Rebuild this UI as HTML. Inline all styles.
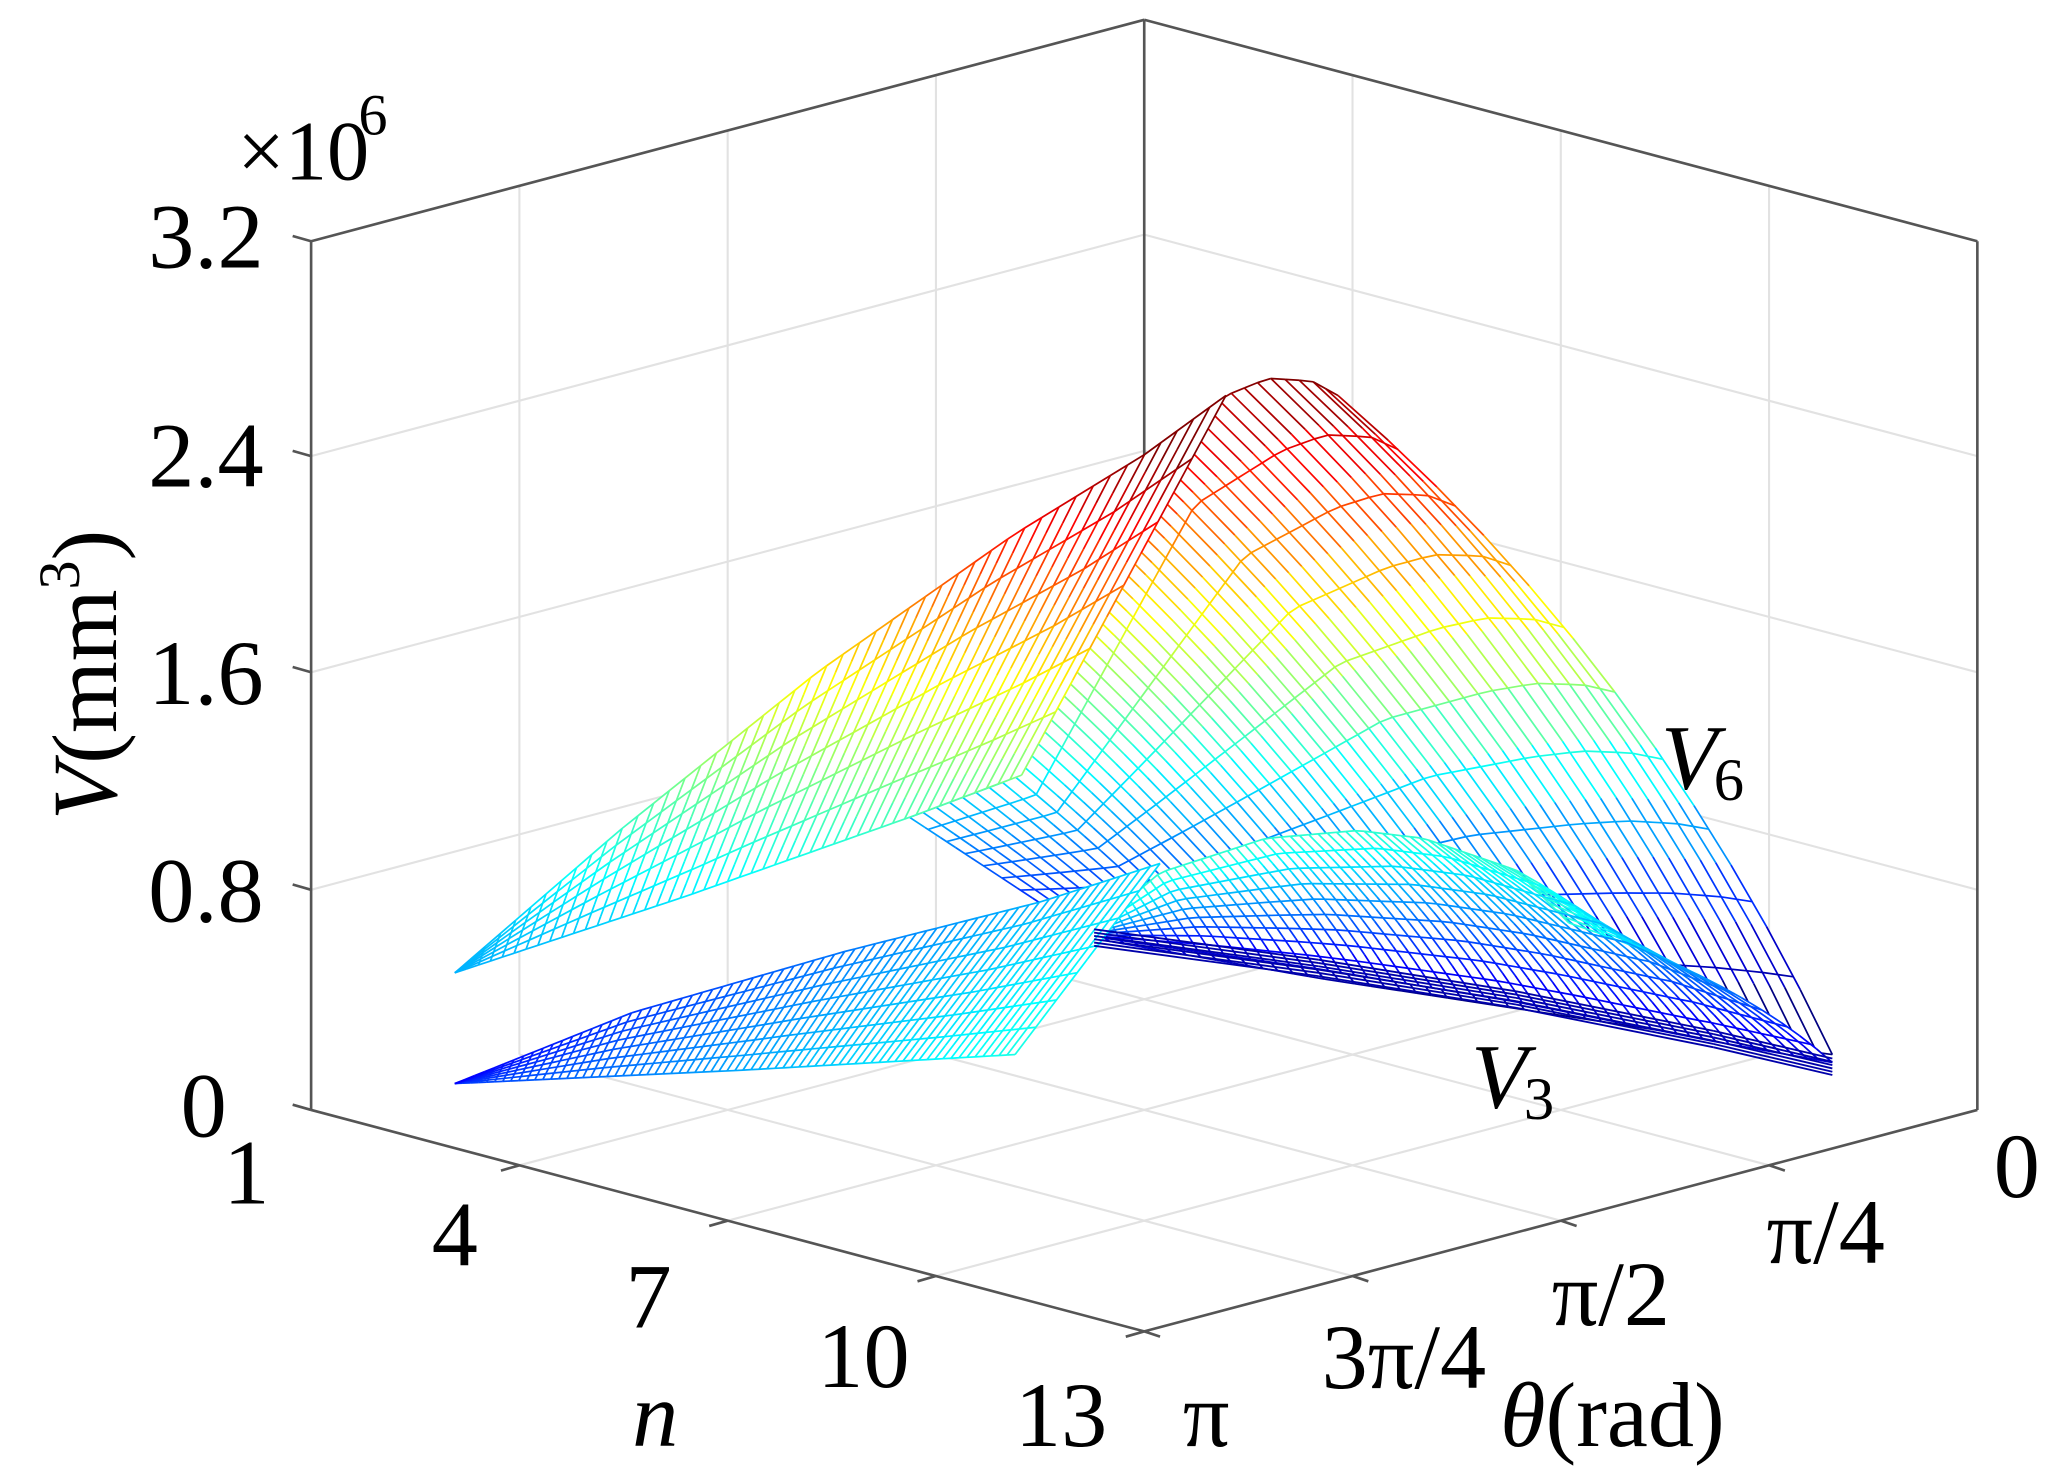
<!DOCTYPE html>
<html><head><meta charset="utf-8"><style>
html,body{margin:0;padding:0;background:#fff;}
svg{display:block;}
</style></head><body>
<svg id="s" width="2067" height="1483" viewBox="0 0 1568 1125" xmlns="http://www.w3.org/2000/svg">
<rect width="1568" height="1125" fill="#fff"/>
<g id="grid" stroke="#e2e2e2" stroke-width="1.6" fill="none"></g>
<g id="box" stroke="#555" stroke-width="2" fill="none">
<line x1="236" y1="183" x2="236" y2="842"/>
<line x1="236" y1="183" x2="868" y2="15"/>
<line x1="868" y1="15" x2="1500" y2="183"/>
<line x1="1500" y1="183" x2="1500" y2="842"/>
<line x1="868" y1="15" x2="868" y2="345"/>
<line x1="236" y1="842" x2="868" y2="1010"/>
<line x1="868" y1="1010" x2="1500" y2="842"/>
</g>
<g id="mesh" fill="none" stroke-width="1.3"></g>
<g font-size="70" font-family="'Liberation Serif','Times New Roman','DejaVu Serif',serif" fill="#000">
<text x="200" y="203" text-anchor="end">3.2</text>
<text x="200" y="369" text-anchor="end">2.4</text>
<text x="200" y="534" text-anchor="end">1.6</text>
<text x="200" y="699" text-anchor="end">0.8</text>
<text x="172" y="862" text-anchor="end">0</text>
<text x="180" y="136" font-size="64">×10</text>
<text x="272" y="102" font-size="44">6</text>
<text x="187" y="913" text-anchor="middle">1</text>
<text x="345" y="960" text-anchor="middle">4</text>
<text x="492" y="1007" text-anchor="middle">7</text>
<text x="655" y="1052" text-anchor="middle">10</text>
<text x="805" y="1097" text-anchor="middle">13</text>
<text x="497" y="1097" text-anchor="middle" font-style="italic">n</text>
<text x="915" y="1097" text-anchor="middle">π</text>
<text x="1065" y="1053" text-anchor="middle">3π/4</text>
<text x="1222" y="1005" text-anchor="middle">π/2</text>
<text x="1385" y="958" text-anchor="middle">π/4</text>
<text x="1530" y="908" text-anchor="middle">0</text>
<text x="1138" y="1097"><tspan font-style="italic">θ</tspan>(rad)</text>
<text x="1260" y="598" font-style="italic">V</text><text x="1300" y="607" font-size="46">6</text>
<text x="1116" y="840" font-style="italic">V</text><text x="1156" y="849" font-size="46">3</text>
<g transform="translate(88,512) rotate(-90)"><text x="0" y="0" text-anchor="middle"><tspan font-style="italic">V</tspan>(mm<tspan font-size="44" dy="-28">3</tspan><tspan dy="28">)</tspan></text></g>
</g>
</svg>
<script>
(function(){
var NS="http://www.w3.org/2000/svg";
var grid=document.getElementById('grid'),mesh=document.getElementById('mesh');
function L(g,x1,y1,x2,y2,c,w){var l=document.createElementNS(NS,'line');l.setAttribute('x1',x1);l.setAttribute('y1',y1);l.setAttribute('x2',x2);l.setAttribute('y2',y2);if(c)l.setAttribute('stroke',c);if(w)l.setAttribute('stroke-width',w);g.appendChild(l);}
[346,510,675].forEach(function(z){L(grid,236,z,868,z-168);L(grid,868,z-168,1500,z);});
[0.25,0.5,0.75].forEach(function(f){var x=236+632*f;L(grid,x,183-168*f,x,842-168*f);
 x=868+632*f;L(grid,x,15+168*f,x,674+168*f);
 L(grid,236+632*f,842+168*f,868+632*f,674+168*f);
 L(grid,236+632*f,842-168*f,868+632*f,1010-168*f);});
var box=document.getElementById('box');
[0.25,0.5,0.75,1].forEach(function(f){var x=236+632*f,y=842+168*f;L(box,x,y,x-14,y+4);});
[0,0.25,0.5,0.75].forEach(function(f){var x=868+632*f,y=1010-168*f;L(box,x,y,x+12,y+4);});
[183,346,510,675,842].forEach(function(z){L(box,236,z,222,z-4);});
function jet(v){v=Math.max(0,Math.min(1,v));function c(x){return Math.round(255*Math.max(0,Math.min(1,1.5-Math.abs(4*v-x))));}
 return 'rgb('+c(3)+','+c(2)+','+c(1)+')';}
function pl(pts,t){
 var d=[0],i;for(i=1;i<pts.length;i++)d.push(d[i-1]+Math.hypot(pts[i][0]-pts[i-1][0],pts[i][1]-pts[i-1][1]));
 var T=t*d[d.length-1];for(i=1;i<pts.length;i++){if(T<=d[i]||i==pts.length-1){var f=(T-d[i-1])/(d[i]-d[i-1]||1);return [pts[i-1][0]+f*(pts[i][0]-pts[i-1][0]),pts[i-1][1]+f*(pts[i][1]-pts[i-1][1])];}}}
function bez(a,b,c,s){var u=1-s;return [u*u*a[0]+2*u*s*c[0]+s*s*b[0],u*u*a[1]+2*u*s*c[1]+s*s*b[1]];}
function patch(C0,C1,nd,nc,bulge,colf,fill){
 function P(t,s){var a=pl(C0,t),b=pl(C1,t);var m=[(a[0]+b[0])/2+bulge[0]*Math.pow(t,1.5),(a[1]+b[1])/2+bulge[1]*Math.pow(t,1.5)];return bez(a,b,m,s);}
 if(fill){var pts=[],k;for(k=0;k<=40;k++)pts.push(P(k/40,0));for(k=0;k<=20;k++)pts.push(P(1,k/20));for(k=40;k>=0;k--)pts.push(P(k/40,1));for(k=20;k>=0;k--)pts.push(P(0,k/20));
  var pg=document.createElementNS(NS,'polygon');pg.setAttribute('points',pts.map(function(p){return p[0].toFixed(1)+','+p[1].toFixed(1)}).join(' '));pg.setAttribute('fill','#fff');pg.setAttribute('stroke','none');mesh.appendChild(pg);}
 var i,j,S=12;
 for(i=0;i<=nd;i++){var t=i/nd;for(j=0;j<S;j++){var p=P(t,j/S),q=P(t,(j+1)/S);L(mesh,p[0],p[1],q[0],q[1],jet(colf(t,(j+0.5)/S,(p[1]+q[1])/2)));}}
 for(i=0;i<=nc;i++){var s=i/nc;for(j=0;j<nd;j++){var p=P(j/nd,s),q=P((j+1)/nd,s);L(mesh,p[0],p[1],q[0],q[1],jet(colf((j+0.5)/nd,s,(p[1]+q[1])/2)));}}
}
patch([[690,620],[770,590],[830,440],[868,345],[930,300],[962,287],[995,289],[1015,300]],
      [[830,712],[1000,742],[1150,765],[1300,788],[1390,800]],
      48,10,[45,-50],function(t,s,y){return (760-y)/470;},true);
patch([[345,738],[520,680],[690,620],[775,588]],
      [[345,738],[470,630],[620,510],[770,405],[868,345],[930,300]],
      48,6,[0,0],function(t,s,y){var r=Math.max(0,(735-y)/390);return 0.3+0.7*Math.pow(r,1.3);},true);
patch([[835,700],[880,662],[960,636],[1030,630],[1080,636],[1150,660],[1190,700]],
      [[840,712],[1000,735],[1150,760],[1300,790],[1390,806]],
      56,9,[30,-10],function(t,s,y){return 0.42-0.34*s;},true);
patch([[345,822],[560,812],[770,800]],
      [[345,822],[480,768],[640,722],[790,684],[880,655]],
      70,7,[0,0],function(t,s,y){return 0.12+0.22*t+0.06*(1-s);},true);
for(var k=0;k<6;k++){var o=k*2.5;var pts=[[830,705+o],[1000,728+o],[1150,752+o],[1300,782+o],[1390,803+o]];
 for(var m=1;m<pts.length;m++)L(mesh,pts[m-1][0],pts[m-1][1],pts[m][0],pts[m][1],'rgb(0,0,170)',1.4);}
})();
</script>
</body></html>
